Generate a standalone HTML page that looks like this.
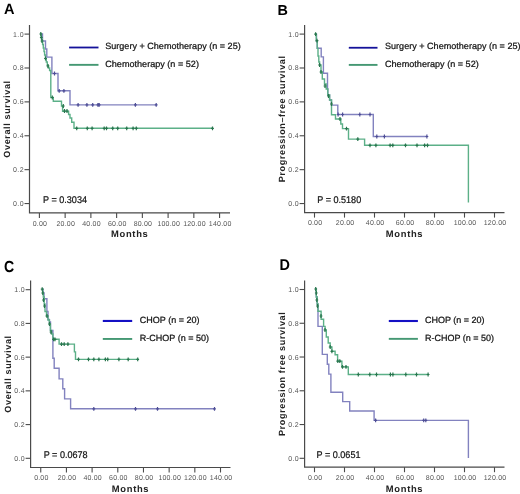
<!DOCTYPE html>
<html><head><meta charset="utf-8"><style>
html,body{margin:0;padding:0;background:#fff;}
svg{display:block;font-family:"Liberation Sans", sans-serif;will-change:transform;text-rendering:geometricPrecision;}
</style></head><body>
<svg width="520" height="494" viewBox="0 0 520 494">
<rect width="520" height="494" fill="#fff"/>
<text transform="translate(4.1 13.6) scale(0.97 1)" font-size="15" font-weight="bold" fill="#000">A</text>
<path d="M29.5 25V212.9H230" fill="none" stroke="#4a4a4a" stroke-width="1.2"/>
<path d="M24.5 203.55H29.5" stroke="#4a4a4a" stroke-width="1.1"/>
<text x="23.90" y="206.05" font-size="7" letter-spacing="0.35" fill="#555" text-anchor="end">0.0</text>
<path d="M24.5 169.66H29.5" stroke="#4a4a4a" stroke-width="1.1"/>
<text x="23.90" y="172.16" font-size="7" letter-spacing="0.35" fill="#555" text-anchor="end">0.2</text>
<path d="M24.5 135.77H29.5" stroke="#4a4a4a" stroke-width="1.1"/>
<text x="23.90" y="138.27" font-size="7" letter-spacing="0.35" fill="#555" text-anchor="end">0.4</text>
<path d="M24.5 101.88H29.5" stroke="#4a4a4a" stroke-width="1.1"/>
<text x="23.90" y="104.38" font-size="7" letter-spacing="0.35" fill="#555" text-anchor="end">0.6</text>
<path d="M24.5 67.99H29.5" stroke="#4a4a4a" stroke-width="1.1"/>
<text x="23.90" y="70.49" font-size="7" letter-spacing="0.35" fill="#555" text-anchor="end">0.8</text>
<path d="M24.5 34.10H29.5" stroke="#4a4a4a" stroke-width="1.1"/>
<text x="23.90" y="36.60" font-size="7" letter-spacing="0.35" fill="#555" text-anchor="end">1.0</text>
<path d="M39.40 212.9V217.9" stroke="#4a4a4a" stroke-width="1.1"/>
<text x="40.00" y="225.50" font-size="7" letter-spacing="0.2" fill="#555" text-anchor="middle">0.00</text>
<path d="M65.14 212.9V217.9" stroke="#4a4a4a" stroke-width="1.1"/>
<text x="65.74" y="225.50" font-size="7" letter-spacing="0.2" fill="#555" text-anchor="middle">20.00</text>
<path d="M90.88 212.9V217.9" stroke="#4a4a4a" stroke-width="1.1"/>
<text x="91.48" y="225.50" font-size="7" letter-spacing="0.2" fill="#555" text-anchor="middle">40.00</text>
<path d="M116.62 212.9V217.9" stroke="#4a4a4a" stroke-width="1.1"/>
<text x="117.22" y="225.50" font-size="7" letter-spacing="0.2" fill="#555" text-anchor="middle">60.00</text>
<path d="M142.36 212.9V217.9" stroke="#4a4a4a" stroke-width="1.1"/>
<text x="142.96" y="225.50" font-size="7" letter-spacing="0.2" fill="#555" text-anchor="middle">80.00</text>
<path d="M168.10 212.9V217.9" stroke="#4a4a4a" stroke-width="1.1"/>
<text x="168.70" y="225.50" font-size="7" letter-spacing="0.2" fill="#555" text-anchor="middle">100.00</text>
<path d="M193.84 212.9V217.9" stroke="#4a4a4a" stroke-width="1.1"/>
<text x="194.44" y="225.50" font-size="7" letter-spacing="0.2" fill="#555" text-anchor="middle">120.00</text>
<path d="M219.58 212.9V217.9" stroke="#4a4a4a" stroke-width="1.1"/>
<text x="220.18" y="225.50" font-size="7" letter-spacing="0.2" fill="#555" text-anchor="middle">140.00</text>
<text x="129.75" y="237.40" font-size="9.4" font-weight="bold" letter-spacing="0.68" fill="#222" text-anchor="middle">Months</text>
<text transform="translate(10.20 118.95) rotate(-90)" x="0" y="0" font-size="9" font-weight="bold" letter-spacing="0.65" fill="#222" text-anchor="middle">Overall survival</text>
<path d="M69.1 47.5H98.5" stroke="#14129a" stroke-width="1.8"/>
<path d="M69.1 64.85H98.5" stroke="#459873" stroke-width="1.9"/>
<text transform="translate(105.2 48.70) scale(1.007 1)" font-size="9" fill="#111" stroke="#111" stroke-width="0.22">Surgery + Chemotherapy (n = 25)</text>
<text transform="translate(105.2 66.80) scale(1.01 1)" font-size="9" fill="#111" stroke="#111" stroke-width="0.22">Chemotherapy (n = 52)</text>
<text transform="translate(43.1 202.5) scale(0.928 1)" font-size="9.75" fill="#111" stroke="#111" stroke-width="0.22">P = 0.3034</text>
<path d="M40.50 34.00 L42.50 34.00 L42.50 41.00 L45.50 41.00 L45.50 49.00 L46.80 49.00 L46.80 57.10 L51.90 57.10 L51.90 73.50 L58.00 73.50 L58.00 90.80 L70.00 90.80 L70.00 104.90 L156.50 104.90" fill="none" stroke="#8282bf" stroke-width="1.4"/>
<path d="M54.50 71.60V75.40M53.10 73.50H55.90M59.20 88.90V92.70M57.80 90.80H60.60M63.90 88.90V92.70M62.50 90.80H65.30M78.10 103.00V106.80M76.70 104.90H79.50M86.90 103.00V106.80M85.50 104.90H88.30M92.70 103.00V106.80M91.30 104.90H94.10M97.90 103.00V106.80M96.50 104.90H99.30M99.20 103.00V106.80M97.80 104.90H100.60M135.40 103.00V106.80M134.00 104.90H136.80M156.20 103.00V106.80M154.80 104.90H157.60" fill="none" stroke="#4e4e96" stroke-width="1.2"/>
<path d="M40.50 34.00 L41.20 34.00 L41.20 37.50 L41.80 37.50 L41.80 41.00 L42.60 41.00 L42.60 44.50 L43.30 44.50 L43.30 48.00 L44.00 48.00 L44.00 51.50 L44.60 51.50 L44.60 55.00 L45.50 55.00 L45.50 58.50 L46.30 58.50 L46.30 62.00 L47.30 62.00 L47.30 65.50 L48.30 65.50 L48.30 68.00 L49.60 68.00 L49.60 70.50 L50.80 70.50 L50.80 97.50 L53.30 97.50 L53.30 101.30 L61.50 101.30 L61.50 106.00 L62.60 106.00 L62.60 111.30 L68.60 111.30 L68.60 114.50 L70.00 114.50 L70.00 118.00 L71.70 118.00 L71.70 122.30 L74.00 122.30 L74.00 128.20 L212.50 128.20" fill="none" stroke="#5cb088" stroke-width="1.4"/>
<path d="M40.80 32.10V35.90M39.40 34.00H42.20M41.30 35.60V39.40M39.90 37.50H42.70M42.00 39.10V42.90M40.60 41.00H43.40M45.50 56.60V60.40M44.10 58.50H46.90M48.00 64.10V67.90M46.60 66.00H49.40M52.30 95.60V99.40M50.90 97.50H53.70M63.30 104.10V107.90M61.90 106.00H64.70M64.50 109.10V112.90M63.10 111.00H65.90M67.00 109.10V112.90M65.60 111.00H68.40M76.70 126.40V130.20M75.30 128.30H78.10M87.30 126.40V130.20M85.90 128.30H88.70M92.10 126.40V130.20M90.70 128.30H93.50M104.20 126.40V130.20M102.80 128.30H105.60M106.50 126.40V130.20M105.10 128.30H107.90M112.70 126.40V130.20M111.30 128.30H114.10M117.70 126.40V130.20M116.30 128.30H119.10M126.70 126.40V130.20M125.30 128.30H128.10M133.10 126.40V130.20M131.70 128.30H134.50M136.30 126.40V130.20M134.90 128.30H137.70M212.50 126.40V130.20M211.10 128.30H213.90" fill="none" stroke="#28764e" stroke-width="1.2"/>
<text transform="translate(277.6 14.6) scale(1.0 1)" font-size="14.4" font-weight="bold" fill="#000">B</text>
<path d="M304.6 25V212.6H504.5" fill="none" stroke="#4a4a4a" stroke-width="1.2"/>
<path d="M299.6 203.55H304.6" stroke="#4a4a4a" stroke-width="1.1"/>
<text x="299.00" y="206.05" font-size="7" letter-spacing="0.35" fill="#555" text-anchor="end">0.0</text>
<path d="M299.6 169.66H304.6" stroke="#4a4a4a" stroke-width="1.1"/>
<text x="299.00" y="172.16" font-size="7" letter-spacing="0.35" fill="#555" text-anchor="end">0.2</text>
<path d="M299.6 135.77H304.6" stroke="#4a4a4a" stroke-width="1.1"/>
<text x="299.00" y="138.27" font-size="7" letter-spacing="0.35" fill="#555" text-anchor="end">0.4</text>
<path d="M299.6 101.88H304.6" stroke="#4a4a4a" stroke-width="1.1"/>
<text x="299.00" y="104.38" font-size="7" letter-spacing="0.35" fill="#555" text-anchor="end">0.6</text>
<path d="M299.6 67.99H304.6" stroke="#4a4a4a" stroke-width="1.1"/>
<text x="299.00" y="70.49" font-size="7" letter-spacing="0.35" fill="#555" text-anchor="end">0.8</text>
<path d="M299.6 34.10H304.6" stroke="#4a4a4a" stroke-width="1.1"/>
<text x="299.00" y="36.60" font-size="7" letter-spacing="0.35" fill="#555" text-anchor="end">1.0</text>
<path d="M314.50 212.6V217.6" stroke="#4a4a4a" stroke-width="1.1"/>
<text x="315.10" y="225.20" font-size="7" letter-spacing="0.2" fill="#555" text-anchor="middle">0.00</text>
<path d="M344.50 212.6V217.6" stroke="#4a4a4a" stroke-width="1.1"/>
<text x="345.10" y="225.20" font-size="7" letter-spacing="0.2" fill="#555" text-anchor="middle">20.00</text>
<path d="M374.50 212.6V217.6" stroke="#4a4a4a" stroke-width="1.1"/>
<text x="375.10" y="225.20" font-size="7" letter-spacing="0.2" fill="#555" text-anchor="middle">40.00</text>
<path d="M404.50 212.6V217.6" stroke="#4a4a4a" stroke-width="1.1"/>
<text x="405.10" y="225.20" font-size="7" letter-spacing="0.2" fill="#555" text-anchor="middle">60.00</text>
<path d="M434.50 212.6V217.6" stroke="#4a4a4a" stroke-width="1.1"/>
<text x="435.10" y="225.20" font-size="7" letter-spacing="0.2" fill="#555" text-anchor="middle">80.00</text>
<path d="M464.50 212.6V217.6" stroke="#4a4a4a" stroke-width="1.1"/>
<text x="465.10" y="225.20" font-size="7" letter-spacing="0.2" fill="#555" text-anchor="middle">100.00</text>
<path d="M494.50 212.6V217.6" stroke="#4a4a4a" stroke-width="1.1"/>
<text x="495.10" y="225.20" font-size="7" letter-spacing="0.2" fill="#555" text-anchor="middle">120.00</text>
<text x="404.55" y="237.10" font-size="9.4" font-weight="bold" letter-spacing="0.68" fill="#222" text-anchor="middle">Months</text>
<text transform="translate(284.70 118.80) rotate(-90)" x="0" y="0" font-size="9" font-weight="bold" letter-spacing="0.65" fill="#222" text-anchor="middle">Progression–free survival</text>
<path d="M348.8 47.75H377.5" stroke="#14129a" stroke-width="1.8"/>
<path d="M348.8 64.9H377.5" stroke="#459873" stroke-width="1.9"/>
<text transform="translate(385.0 48.70) scale(1.007 1)" font-size="9" fill="#111" stroke="#111" stroke-width="0.22">Surgery + Chemotherapy (n = 25)</text>
<text transform="translate(385.0 66.80) scale(1.01 1)" font-size="9" fill="#111" stroke="#111" stroke-width="0.22">Chemotherapy (n = 52)</text>
<text transform="translate(317.3 202.8) scale(0.928 1)" font-size="9.75" fill="#111" stroke="#111" stroke-width="0.22">P = 0.5180</text>
<path d="M315.60 34.10 L316.50 34.10 L316.50 41.00 L317.30 41.00 L317.30 48.30 L321.20 48.30 L321.20 56.90 L323.40 56.90 L323.40 73.20 L327.50 73.20 L327.50 89.00 L327.80 89.00 L327.80 95.00 L329.60 95.00 L329.60 100.00 L331.50 100.00 L331.50 105.10 L337.80 105.10 L337.80 114.50 L373.30 114.50 L373.30 136.50 L427.10 136.50" fill="none" stroke="#8282bf" stroke-width="1.4"/>
<path d="M338.10 112.60V116.40M336.70 114.50H339.50M342.60 112.60V116.40M341.20 114.50H344.00M359.80 112.60V116.40M358.40 114.50H361.20M370.00 112.60V116.40M368.60 114.50H371.40M376.80 134.60V138.40M375.40 136.50H378.20M384.40 134.60V138.40M383.00 136.50H385.80M426.90 134.60V138.40M425.50 136.50H428.30" fill="none" stroke="#4e4e96" stroke-width="1.2"/>
<path d="M315.60 34.10 L316.30 34.10 L316.30 41.00 L317.20 41.00 L317.20 48.30 L318.00 48.30 L318.00 56.00 L318.80 56.00 L318.80 62.00 L319.60 62.00 L319.60 65.00 L321.00 65.00 L321.00 72.00 L322.30 72.00 L322.30 79.00 L324.50 79.00 L324.50 84.00 L326.20 84.00 L326.20 89.00 L327.80 89.00 L327.80 95.00 L329.60 95.00 L329.60 100.00 L331.50 100.00 L331.50 104.00 L331.50 114.80 L335.50 114.80 L335.50 119.00 L340.80 119.00 L340.80 124.00 L342.50 124.00 L342.50 128.60 L348.50 128.60 L348.50 139.10 L364.60 139.10 L364.60 145.30 L468.40 145.30 L468.40 202.50" fill="none" stroke="#5cb088" stroke-width="1.4"/>
<path d="M315.60 32.20V36.00M314.20 34.10H317.00M317.00 38.80V42.60M315.60 40.70H318.40M319.60 63.10V66.90M318.20 65.00H321.00M321.00 70.10V73.90M319.60 72.00H322.40M325.00 84.10V87.90M323.60 86.00H326.40M328.50 94.10V97.90M327.10 96.00H329.90M331.50 102.10V105.90M330.10 104.00H332.90M340.00 117.10V120.90M338.60 119.00H341.40M346.50 126.70V130.50M345.10 128.60H347.90M357.80 137.20V141.00M356.40 139.10H359.20M370.00 143.40V147.20M368.60 145.30H371.40M375.90 143.40V147.20M374.50 145.30H377.30M390.10 143.40V147.20M388.70 145.30H391.50M392.80 143.40V147.20M391.40 145.30H394.20M405.50 143.40V147.20M404.10 145.30H406.90M417.00 143.40V147.20M415.60 145.30H418.40M424.60 143.40V147.20M423.20 145.30H426.00M427.50 143.40V147.20M426.10 145.30H428.90" fill="none" stroke="#28764e" stroke-width="1.2"/>
<text transform="translate(4.0 271.6) scale(0.88 1)" font-size="16" font-weight="bold" fill="#000">C</text>
<path d="M30.6 280.4V467.5H230.5" fill="none" stroke="#4a4a4a" stroke-width="1.2"/>
<path d="M25.6 458.30H30.6" stroke="#4a4a4a" stroke-width="1.1"/>
<text x="25.00" y="460.80" font-size="7" letter-spacing="0.35" fill="#555" text-anchor="end">0.0</text>
<path d="M25.6 424.58H30.6" stroke="#4a4a4a" stroke-width="1.1"/>
<text x="25.00" y="427.08" font-size="7" letter-spacing="0.35" fill="#555" text-anchor="end">0.2</text>
<path d="M25.6 390.86H30.6" stroke="#4a4a4a" stroke-width="1.1"/>
<text x="25.00" y="393.36" font-size="7" letter-spacing="0.35" fill="#555" text-anchor="end">0.4</text>
<path d="M25.6 357.14H30.6" stroke="#4a4a4a" stroke-width="1.1"/>
<text x="25.00" y="359.64" font-size="7" letter-spacing="0.35" fill="#555" text-anchor="end">0.6</text>
<path d="M25.6 323.42H30.6" stroke="#4a4a4a" stroke-width="1.1"/>
<text x="25.00" y="325.92" font-size="7" letter-spacing="0.35" fill="#555" text-anchor="end">0.8</text>
<path d="M25.6 289.70H30.6" stroke="#4a4a4a" stroke-width="1.1"/>
<text x="25.00" y="292.20" font-size="7" letter-spacing="0.35" fill="#555" text-anchor="end">1.0</text>
<path d="M40.75 467.5V472.5" stroke="#4a4a4a" stroke-width="1.1"/>
<text x="41.35" y="480.10" font-size="7" letter-spacing="0.2" fill="#555" text-anchor="middle">0.00</text>
<path d="M66.43 467.5V472.5" stroke="#4a4a4a" stroke-width="1.1"/>
<text x="67.03" y="480.10" font-size="7" letter-spacing="0.2" fill="#555" text-anchor="middle">20.00</text>
<path d="M92.11 467.5V472.5" stroke="#4a4a4a" stroke-width="1.1"/>
<text x="92.71" y="480.10" font-size="7" letter-spacing="0.2" fill="#555" text-anchor="middle">40.00</text>
<path d="M117.79 467.5V472.5" stroke="#4a4a4a" stroke-width="1.1"/>
<text x="118.39" y="480.10" font-size="7" letter-spacing="0.2" fill="#555" text-anchor="middle">60.00</text>
<path d="M143.47 467.5V472.5" stroke="#4a4a4a" stroke-width="1.1"/>
<text x="144.07" y="480.10" font-size="7" letter-spacing="0.2" fill="#555" text-anchor="middle">80.00</text>
<path d="M169.15 467.5V472.5" stroke="#4a4a4a" stroke-width="1.1"/>
<text x="169.75" y="480.10" font-size="7" letter-spacing="0.2" fill="#555" text-anchor="middle">100.00</text>
<path d="M194.83 467.5V472.5" stroke="#4a4a4a" stroke-width="1.1"/>
<text x="195.43" y="480.10" font-size="7" letter-spacing="0.2" fill="#555" text-anchor="middle">120.00</text>
<path d="M220.51 467.5V472.5" stroke="#4a4a4a" stroke-width="1.1"/>
<text x="221.11" y="480.10" font-size="7" letter-spacing="0.2" fill="#555" text-anchor="middle">140.00</text>
<text x="130.55" y="492.00" font-size="9.4" font-weight="bold" letter-spacing="0.68" fill="#222" text-anchor="middle">Months</text>
<text transform="translate(10.90 373.95) rotate(-90)" x="0" y="0" font-size="9" font-weight="bold" letter-spacing="0.65" fill="#222" text-anchor="middle">Overall survival</text>
<path d="M102.8 320.95H132.2" stroke="#1410c4" stroke-width="2.1"/>
<path d="M102.8 338.95H132.2" stroke="#459873" stroke-width="1.9"/>
<text transform="translate(139.8 323.10) scale(1 1)" font-size="9" fill="#111" stroke="#111" stroke-width="0.22">CHOP (n = 20)</text>
<text transform="translate(139.8 340.80) scale(1 1)" font-size="9" fill="#111" stroke="#111" stroke-width="0.22">R-CHOP (n = 50)</text>
<text transform="translate(43.7 457.6) scale(0.928 1)" font-size="9.75" fill="#111" stroke="#111" stroke-width="0.22">P = 0.0678</text>
<path d="M42.10 289.10 L43.00 289.10 L43.00 293.00 L44.00 293.00 L44.00 298.80 L46.90 298.80 L46.90 311.50 L48.00 311.50 L48.00 319.50 L49.40 319.50 L49.40 322.00 L50.50 322.00 L50.50 330.40 L52.90 330.40 L52.90 358.30 L54.20 358.30 L54.20 368.30 L59.10 368.30 L59.10 378.90 L62.80 378.90 L62.80 388.70 L64.60 388.70 L64.60 398.90 L70.60 398.90 L70.60 408.80 L214.50 408.80" fill="none" stroke="#8282bf" stroke-width="1.4"/>
<path d="M93.80 406.90V410.70M92.40 408.80H95.20M135.50 406.90V410.70M134.10 408.80H136.90M157.50 406.90V410.70M156.10 408.80H158.90M214.50 406.90V410.70M213.10 408.80H215.90" fill="none" stroke="#4e4e96" stroke-width="1.2"/>
<path d="M42.10 289.10 L42.60 289.10 L42.60 293.00 L43.30 293.00 L43.30 297.00 L44.20 297.00 L44.20 304.00 L45.00 304.00 L45.00 311.50 L46.50 311.50 L46.50 316.00 L48.00 316.00 L48.00 320.00 L49.40 320.00 L49.40 324.00 L50.40 324.00 L50.40 330.40 L51.50 330.40 L51.50 334.00 L52.90 334.00 L52.90 339.30 L59.10 339.30 L59.10 344.10 L74.40 344.10 L74.40 351.90 L75.50 351.90 L75.50 359.40 L138.50 359.40" fill="none" stroke="#5cb088" stroke-width="1.4"/>
<path d="M42.20 287.20V291.00M40.80 289.10H43.60M42.80 291.10V294.90M41.40 293.00H44.20M43.50 298.10V301.90M42.10 300.00H44.90M44.50 304.10V307.90M43.10 306.00H45.90M47.00 314.10V317.90M45.60 316.00H48.40M49.50 322.10V325.90M48.10 324.00H50.90M51.00 330.10V333.90M49.60 332.00H52.40M53.60 337.40V341.20M52.20 339.30H55.00M55.00 337.40V341.20M53.60 339.30H56.40M61.50 342.20V346.00M60.10 344.10H62.90M64.20 342.20V346.00M62.80 344.10H65.60M67.90 342.20V346.00M66.50 344.10H69.30M78.50 357.50V361.30M77.10 359.40H79.90M88.50 357.50V361.30M87.10 359.40H89.90M93.80 357.50V361.30M92.40 359.40H95.20M98.90 357.50V361.30M97.50 359.40H100.30M105.40 357.50V361.30M104.00 359.40H106.80M107.70 357.50V361.30M106.30 359.40H109.10M118.90 357.50V361.30M117.50 359.40H120.30M128.20 357.50V361.30M126.80 359.40H129.60M137.70 357.50V361.30M136.30 359.40H139.10" fill="none" stroke="#28764e" stroke-width="1.2"/>
<text transform="translate(279.4 269.9) scale(0.93 1)" font-size="15.5" font-weight="bold" fill="#000">D</text>
<path d="M304.6 280.4V467.2H504.5" fill="none" stroke="#4a4a4a" stroke-width="1.2"/>
<path d="M299.6 458.30H304.6" stroke="#4a4a4a" stroke-width="1.1"/>
<text x="299.00" y="460.80" font-size="7" letter-spacing="0.35" fill="#555" text-anchor="end">0.0</text>
<path d="M299.6 424.54H304.6" stroke="#4a4a4a" stroke-width="1.1"/>
<text x="299.00" y="427.04" font-size="7" letter-spacing="0.35" fill="#555" text-anchor="end">0.2</text>
<path d="M299.6 390.78H304.6" stroke="#4a4a4a" stroke-width="1.1"/>
<text x="299.00" y="393.28" font-size="7" letter-spacing="0.35" fill="#555" text-anchor="end">0.4</text>
<path d="M299.6 357.02H304.6" stroke="#4a4a4a" stroke-width="1.1"/>
<text x="299.00" y="359.52" font-size="7" letter-spacing="0.35" fill="#555" text-anchor="end">0.6</text>
<path d="M299.6 323.26H304.6" stroke="#4a4a4a" stroke-width="1.1"/>
<text x="299.00" y="325.76" font-size="7" letter-spacing="0.35" fill="#555" text-anchor="end">0.8</text>
<path d="M299.6 289.50H304.6" stroke="#4a4a4a" stroke-width="1.1"/>
<text x="299.00" y="292.00" font-size="7" letter-spacing="0.35" fill="#555" text-anchor="end">1.0</text>
<path d="M314.50 467.2V472.2" stroke="#4a4a4a" stroke-width="1.1"/>
<text x="315.10" y="479.80" font-size="7" letter-spacing="0.2" fill="#555" text-anchor="middle">0.00</text>
<path d="M344.50 467.2V472.2" stroke="#4a4a4a" stroke-width="1.1"/>
<text x="345.10" y="479.80" font-size="7" letter-spacing="0.2" fill="#555" text-anchor="middle">20.00</text>
<path d="M374.50 467.2V472.2" stroke="#4a4a4a" stroke-width="1.1"/>
<text x="375.10" y="479.80" font-size="7" letter-spacing="0.2" fill="#555" text-anchor="middle">40.00</text>
<path d="M404.50 467.2V472.2" stroke="#4a4a4a" stroke-width="1.1"/>
<text x="405.10" y="479.80" font-size="7" letter-spacing="0.2" fill="#555" text-anchor="middle">60.00</text>
<path d="M434.50 467.2V472.2" stroke="#4a4a4a" stroke-width="1.1"/>
<text x="435.10" y="479.80" font-size="7" letter-spacing="0.2" fill="#555" text-anchor="middle">80.00</text>
<path d="M464.50 467.2V472.2" stroke="#4a4a4a" stroke-width="1.1"/>
<text x="465.10" y="479.80" font-size="7" letter-spacing="0.2" fill="#555" text-anchor="middle">100.00</text>
<path d="M494.50 467.2V472.2" stroke="#4a4a4a" stroke-width="1.1"/>
<text x="495.10" y="479.80" font-size="7" letter-spacing="0.2" fill="#555" text-anchor="middle">120.00</text>
<text x="404.55" y="491.70" font-size="9.4" font-weight="bold" letter-spacing="0.68" fill="#222" text-anchor="middle">Months</text>
<text transform="translate(284.70 373.80) rotate(-90)" x="0" y="0" font-size="9" font-weight="bold" letter-spacing="0.65" fill="#222" text-anchor="middle">Progression free survival</text>
<path d="M388.8 321.0H417.9" stroke="#1410c4" stroke-width="2.1"/>
<path d="M388.8 338.85H417.9" stroke="#459873" stroke-width="1.9"/>
<text transform="translate(425.0 323.10) scale(1 1)" font-size="9" fill="#111" stroke="#111" stroke-width="0.22">CHOP (n = 20)</text>
<text transform="translate(425.0 340.80) scale(1 1)" font-size="9" fill="#111" stroke="#111" stroke-width="0.22">R-CHOP (n = 50)</text>
<text transform="translate(316.6 457.6) scale(0.928 1)" font-size="9.75" fill="#111" stroke="#111" stroke-width="0.22">P = 0.0651</text>
<path d="M315.70 289.00 L316.30 289.00 L316.30 297.00 L317.20 297.00 L317.20 304.00 L318.00 304.00 L318.00 311.20 L318.00 326.40 L322.30 326.40 L322.30 354.40 L327.30 354.40 L327.30 364.20 L328.80 364.20 L328.80 374.10 L330.90 374.10 L330.90 392.30 L342.70 392.30 L342.70 401.60 L349.70 401.60 L349.70 411.00 L374.10 411.00 L374.10 420.40 L468.40 420.40 L468.40 458.00" fill="none" stroke="#8282bf" stroke-width="1.4"/>
<path d="M375.60 418.50V422.30M374.20 420.40H377.00M423.70 418.50V422.30M422.30 420.40H425.10M425.80 418.50V422.30M424.40 420.40H427.20" fill="none" stroke="#4e4e96" stroke-width="1.2"/>
<path d="M315.70 289.00 L316.30 289.00 L316.30 297.00 L317.20 297.00 L317.20 304.00 L318.00 304.00 L318.00 311.20 L321.10 311.20 L321.10 319.30 L323.60 319.30 L323.60 326.40 L325.10 326.40 L325.10 330.00 L326.30 330.00 L326.30 337.00 L328.20 337.00 L328.20 343.00 L330.20 343.00 L330.20 347.00 L331.90 347.00 L331.90 351.30 L335.10 351.30 L335.10 354.80 L337.60 354.80 L337.60 361.20 L341.90 361.20 L341.90 366.90 L348.30 366.90 L348.30 374.50 L428.30 374.50" fill="none" stroke="#5cb088" stroke-width="1.4"/>
<path d="M315.70 287.10V290.90M314.30 289.00H317.10M316.30 291.10V294.90M314.90 293.00H317.70M316.80 298.10V301.90M315.40 300.00H318.20M317.50 304.10V307.90M316.10 306.00H318.90M321.00 314.10V317.90M319.60 316.00H322.40M325.00 328.10V331.90M323.60 330.00H326.40M330.20 345.10V348.90M328.80 347.00H331.60M331.90 349.40V353.20M330.50 351.30H333.30M337.80 359.30V363.10M336.40 361.20H339.20M339.80 359.30V363.10M338.40 361.20H341.20M342.50 365.00V368.80M341.10 366.90H343.90M346.00 365.00V368.80M344.60 366.90H347.40M358.30 372.60V376.40M356.90 374.50H359.70M369.80 372.60V376.40M368.40 374.50H371.20M376.50 372.60V376.40M375.10 374.50H377.90M390.40 372.60V376.40M389.00 374.50H391.80M392.90 372.60V376.40M391.50 374.50H394.30M405.80 372.60V376.40M404.40 374.50H407.20M416.50 372.60V376.40M415.10 374.50H417.90M428.10 372.60V376.40M426.70 374.50H429.50" fill="none" stroke="#28764e" stroke-width="1.2"/>
</svg>
</body></html>
